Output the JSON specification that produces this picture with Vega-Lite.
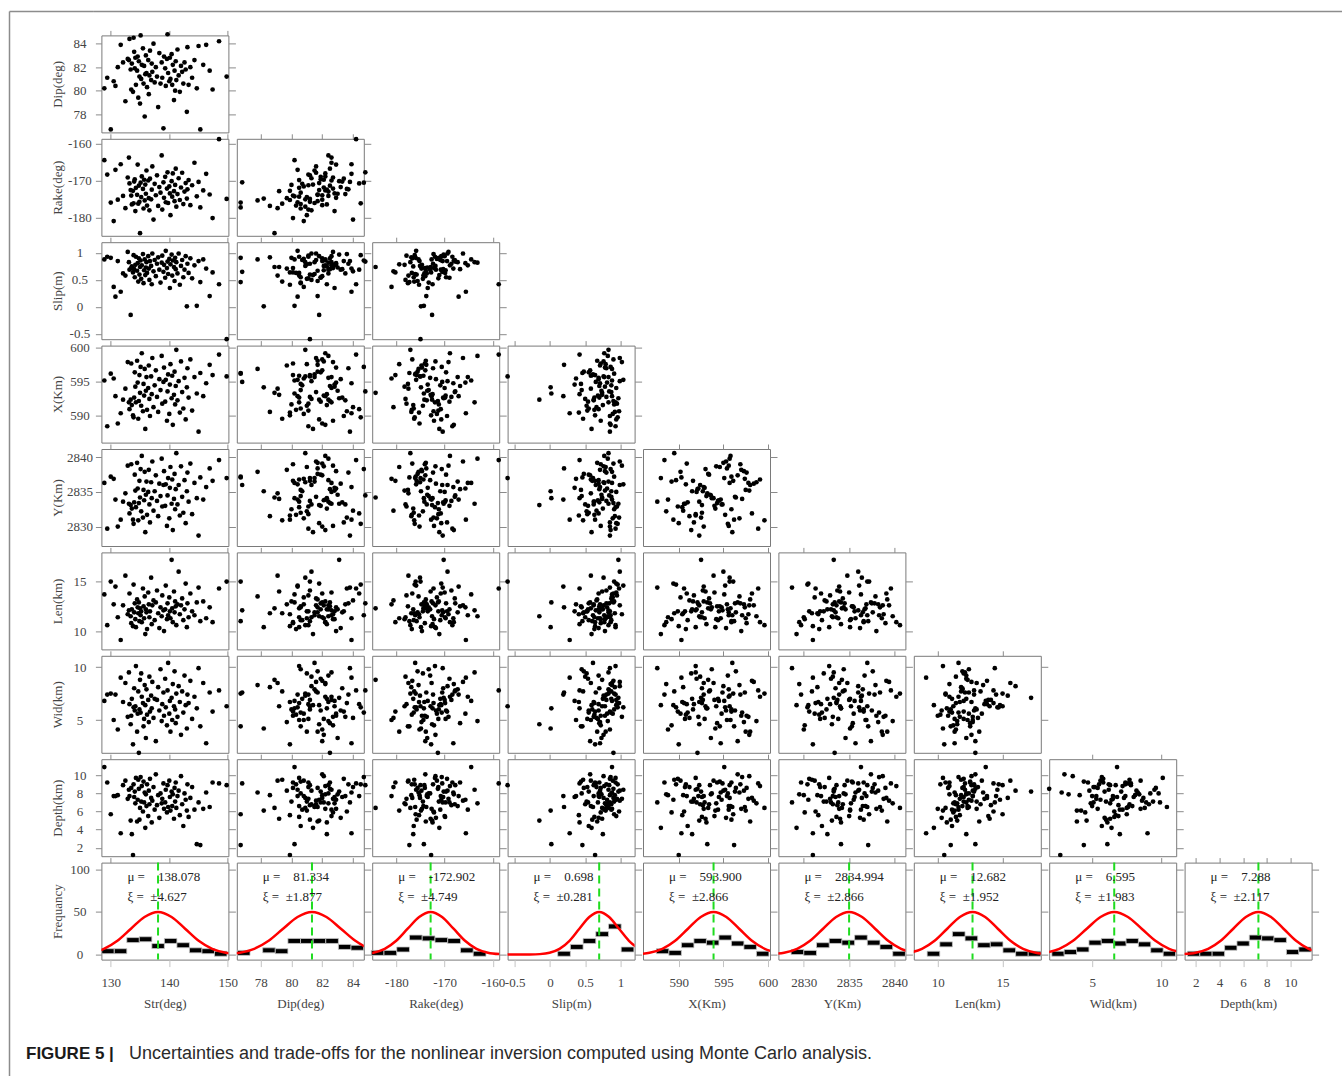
{
"$schema": "https://vega.github.io/schema/vega-lite/v6.json",
"padding": {"left": 8, "top": 10, "right": 0, "bottom": 0},
"background": "white",
"data": {"name": "s"},
"datasets": {
"s": [
{"Str":128.9,"Dip":80.2,"Rake":-164.5,"Slip":0.88,"X":595.1,"Y":2836.3,"Y2":2837.0,"Len":13.7,"Wid":6.8,"Depth":10.9},
{"Str":129.4,"Dip":81.1,"Rake":-168.4,"Slip":0.93,"X":588.4,"Y":2829.7,"Y2":2839.6,"Len":10.6,"Wid":7.4,"Depth":9.2},
{"Str":130.0,"Dip":76.7,"Rake":-176.0,"Slip":0.91,"X":596.1,"Y":2837.2,"Y2":2836.6,"Len":15.0,"Wid":7.5,"Depth":5.7},
{"Str":130.5,"Dip":80.8,"Rake":-181.0,"Slip":0.37,"X":595.4,"Y":2836.9,"Y2":2838.4,"Len":12.7,"Wid":5.0,"Depth":7.7},
{"Str":130.8,"Dip":80.4,"Rake":-167.1,"Slip":0.19,"X":592.8,"Y":2833.9,"Y2":2835.7,"Len":14.5,"Wid":7.4,"Depth":7.7},
{"Str":131.2,"Dip":82.0,"Rake":-175.2,"Slip":0.85,"X":588.8,"Y":2830.0,"Y2":2833.9,"Len":11.4,"Wid":4.1,"Depth":7.8},
{"Str":131.7,"Dip":83.9,"Rake":-165.6,"Slip":0.28,"X":590.3,"Y":2831.0,"Y2":2837.1,"Len":9.1,"Wid":9.0,"Depth":3.6},
{"Str":132.1,"Dip":82.4,"Rake":-174.2,"Slip":0.62,"X":592.3,"Y":2833.6,"Y2":2828.7,"Len":12.6,"Wid":6.7,"Depth":8.9},
{"Str":132.5,"Dip":79.1,"Rake":-177.5,"Slip":0.58,"X":593.9,"Y":2834.8,"Y2":2834.1,"Len":15.6,"Wid":8.5,"Depth":9.4},
{"Str":132.9,"Dip":82.7,"Rake":-169.2,"Slip":1.02,"X":597.8,"Y":2838.8,"Y2":2836.3,"Len":11.7,"Wid":5.3,"Depth":7.4},
{"Str":133.1,"Dip":82.6,"Rake":-163.8,"Slip":0.83,"X":591.9,"Y":2833.3,"Y2":2831.8,"Len":12.1,"Wid":9.5,"Depth":8.4},
{"Str":133.2,"Dip":84.4,"Rake":-170.8,"Slip":0.69,"X":590.9,"Y":2831.9,"Y2":2839.1,"Len":13.8,"Wid":6.5,"Depth":7.7},
{"Str":133.4,"Dip":81.8,"Rake":-172.6,"Slip":-0.15,"X":592.3,"Y":2833.1,"Y2":2833.6,"Len":11.5,"Wid":4.6,"Depth":5.0},
{"Str":133.5,"Dip":80.1,"Rake":-174.1,"Slip":0.72,"X":597.6,"Y":2839.0,"Y2":2837.8,"Len":10.8,"Wid":5.4,"Depth":8.6},
{"Str":133.6,"Dip":82.3,"Rake":-176.5,"Slip":0.75,"X":591.5,"Y":2832.6,"Y2":2835.1,"Len":12.2,"Wid":7.0,"Depth":3.5},
{"Str":133.8,"Dip":79.9,"Rake":-172.8,"Slip":0.64,"X":590.0,"Y":2831.0,"Y2":2830.5,"Len":10.5,"Wid":2.7,"Depth":1.2},
{"Str":133.9,"Dip":84.5,"Rake":-176.2,"Slip":0.96,"X":589.7,"Y":2830.4,"Y2":2836.7,"Len":14.7,"Wid":6.2,"Depth":9.0},
{"Str":134.0,"Dip":83.3,"Rake":-170.3,"Slip":0.70,"X":592.6,"Y":2833.5,"Y2":2832.0,"Len":11.9,"Wid":8.0,"Depth":7.6},
{"Str":134.1,"Dip":81.9,"Rake":-169.7,"Slip":0.55,"X":596.3,"Y":2837.5,"Y2":2834.3,"Len":12.8,"Wid":5.9,"Depth":8.2},
{"Str":134.2,"Dip":82.8,"Rake":-178.3,"Slip":0.78,"X":594.2,"Y":2835.2,"Y2":2838.7,"Len":11.2,"Wid":6.3,"Depth":6.9},
{"Str":134.3,"Dip":80.5,"Rake":-172.0,"Slip":0.93,"X":591.9,"Y":2832.8,"Y2":2831.6,"Len":10.4,"Wid":10.1,"Depth":9.7},
{"Str":134.5,"Dip":81.7,"Rake":-173.9,"Slip":0.67,"X":598.0,"Y":2839.2,"Y2":2836.0,"Len":13.2,"Wid":3.9,"Depth":4.9},
{"Str":134.6,"Dip":82.9,"Rake":-165.7,"Slip":0.81,"X":594.8,"Y":2835.5,"Y2":2833.2,"Len":12.4,"Wid":5.6,"Depth":7.3},
{"Str":134.7,"Dip":79.4,"Rake":-176.3,"Slip":0.47,"X":589.5,"Y":2830.9,"Y2":2840.6,"Len":11.8,"Wid":7.7,"Depth":9.5},
{"Str":134.8,"Dip":82.5,"Rake":-171.4,"Slip":0.90,"X":592.1,"Y":2833.4,"Y2":2835.4,"Len":12.9,"Wid":1.9,"Depth":8.5},
{"Str":134.9,"Dip":81.2,"Rake":-175.8,"Slip":0.60,"X":595.9,"Y":2836.6,"Y2":2832.5,"Len":11.0,"Wid":6.0,"Depth":5.1},
{"Str":135.0,"Dip":78.9,"Rake":-184.3,"Slip":0.74,"X":593.3,"Y":2834.2,"Y2":2837.6,"Len":12.3,"Wid":8.8,"Depth":6.4},
{"Str":135.1,"Dip":84.7,"Rake":-170.6,"Slip":0.86,"X":597.1,"Y":2838.3,"Y2":2834.0,"Len":11.6,"Wid":5.7,"Depth":9.8},
{"Str":135.2,"Dip":81.0,"Rake":-174.5,"Slip":0.52,"X":591.4,"Y":2832.2,"Y2":2829.5,"Len":12.0,"Wid":9.4,"Depth":7.1},
{"Str":135.3,"Dip":82.2,"Rake":-168.9,"Slip":0.77,"X":599.1,"Y":2840.2,"Y2":2836.8,"Len":10.9,"Wid":7.2,"Depth":8.8},
{"Str":135.5,"Dip":83.6,"Rake":-172.3,"Slip":0.98,"X":590.6,"Y":2831.3,"Y2":2833.3,"Len":14.3,"Wid":6.6,"Depth":6.0},
{"Str":135.6,"Dip":80.6,"Rake":-177.6,"Slip":0.44,"X":594.6,"Y":2835.3,"Y2":2838.6,"Len":12.5,"Wid":4.4,"Depth":9.3},
{"Str":135.7,"Dip":82.1,"Rake":-169.8,"Slip":0.68,"X":592.9,"Y":2833.8,"Y2":2835.6,"Len":11.3,"Wid":5.1,"Depth":7.0},
{"Str":135.8,"Dip":77.8,"Rake":-175.4,"Slip":0.88,"X":596.8,"Y":2837.9,"Y2":2831.2,"Len":13.5,"Wid":8.3,"Depth":8.1},
{"Str":135.9,"Dip":81.4,"Rake":-171.1,"Slip":0.59,"X":588.0,"Y":2829.2,"Y2":2837.0,"Len":9.7,"Wid":6.4,"Depth":4.2},
{"Str":136.0,"Dip":83.0,"Rake":-173.6,"Slip":0.73,"X":593.6,"Y":2834.6,"Y2":2834.5,"Len":12.2,"Wid":3.3,"Depth":7.9},
{"Str":136.1,"Dip":81.5,"Rake":-167.3,"Slip":0.83,"X":595.6,"Y":2836.5,"Y2":2830.1,"Len":11.9,"Wid":7.9,"Depth":6.6},
{"Str":136.2,"Dip":80.3,"Rake":-176.8,"Slip":0.63,"X":590.8,"Y":2831.7,"Y2":2836.1,"Len":10.2,"Wid":5.5,"Depth":9.0},
{"Str":136.4,"Dip":82.6,"Rake":-170.0,"Slip":0.94,"X":594.0,"Y":2835.0,"Y2":2833.0,"Len":13.9,"Wid":6.9,"Depth":5.5},
{"Str":136.5,"Dip":79.7,"Rake":-174.8,"Slip":0.71,"X":597.3,"Y":2838.2,"Y2":2838.0,"Len":12.7,"Wid":4.8,"Depth":8.3},
{"Str":136.6,"Dip":81.3,"Rake":-178.1,"Slip":0.50,"X":592.4,"Y":2833.2,"Y2":2836.0,"Len":11.4,"Wid":9.1,"Depth":6.8},
{"Str":136.7,"Dip":83.4,"Rake":-169.5,"Slip":0.85,"X":589.9,"Y":2830.6,"Y2":2832.9,"Len":12.0,"Wid":5.8,"Depth":9.6},
{"Str":136.9,"Dip":80.9,"Rake":-175.1,"Slip":0.76,"X":595.7,"Y":2836.4,"Y2":2839.8,"Len":15.4,"Wid":7.3,"Depth":7.5},
{"Str":137.0,"Dip":82.3,"Rake":-172.5,"Slip":0.42,"X":593.1,"Y":2834.1,"Y2":2834.4,"Len":10.7,"Wid":6.1,"Depth":4.8},
{"Str":137.1,"Dip":81.6,"Rake":-166.2,"Slip":0.99,"X":598.4,"Y":2839.4,"Y2":2836.2,"Len":12.6,"Wid":8.6,"Depth":7.2},
{"Str":137.3,"Dip":84.0,"Rake":-180.6,"Slip":0.66,"X":591.2,"Y":2832.3,"Y2":2831.5,"Len":13.1,"Wid":5.2,"Depth":8.7},
{"Str":137.5,"Dip":80.7,"Rake":-170.9,"Slip":0.87,"X":594.4,"Y":2835.1,"Y2":2833.7,"Len":11.1,"Wid":7.0,"Depth":6.2},
{"Str":137.7,"Dip":82.0,"Rake":-174.0,"Slip":0.57,"X":596.6,"Y":2837.4,"Y2":2837.4,"Len":12.9,"Wid":3.0,"Depth":10.1},
{"Str":137.9,"Dip":81.2,"Rake":-168.6,"Slip":0.80,"X":592.7,"Y":2833.7,"Y2":2835.1,"Len":14.1,"Wid":6.9,"Depth":6.7},
{"Str":138.1,"Dip":78.6,"Rake":-176.9,"Slip":0.92,"X":590.5,"Y":2831.5,"Y2":2832.3,"Len":11.8,"Wid":8.1,"Depth":7.8},
{"Str":138.3,"Dip":83.2,"Rake":-171.8,"Slip":0.69,"X":595.3,"Y":2836.2,"Y2":2839.4,"Len":10.3,"Wid":5.9,"Depth":5.3},
{"Str":138.5,"Dip":80.6,"Rake":-173.3,"Slip":0.45,"X":593.7,"Y":2834.4,"Y2":2834.1,"Len":12.4,"Wid":9.8,"Depth":8.0},
{"Str":138.7,"Dip":82.4,"Rake":-163.2,"Slip":0.82,"X":598.7,"Y":2839.8,"Y2":2836.4,"Len":11.5,"Wid":4.9,"Depth":6.9},
{"Str":138.8,"Dip":81.1,"Rake":-177.9,"Slip":0.95,"X":591.7,"Y":2832.9,"Y2":2830.6,"Len":13.6,"Wid":6.5,"Depth":7.4},
{"Str":139.0,"Dip":76.8,"Rake":-170.5,"Slip":0.65,"X":594.9,"Y":2836.0,"Y2":2833.2,"Len":12.1,"Wid":7.6,"Depth":9.1},
{"Str":139.1,"Dip":82.9,"Rake":-174.7,"Slip":0.78,"X":597.0,"Y":2838.0,"Y2":2838.2,"Len":10.0,"Wid":5.4,"Depth":6.3},
{"Str":139.3,"Dip":81.9,"Rake":-169.0,"Slip":0.54,"X":592.0,"Y":2833.0,"Y2":2835.0,"Len":12.2,"Wid":8.9,"Depth":7.0},
{"Str":139.4,"Dip":80.4,"Rake":-175.9,"Slip":1.04,"X":595.2,"Y":2836.1,"Y2":2831.7,"Len":14.6,"Wid":6.2,"Depth":8.4},
{"Str":139.6,"Dip":82.7,"Rake":-172.2,"Slip":0.72,"X":589.2,"Y":2830.1,"Y2":2836.5,"Len":11.2,"Wid":4.5,"Depth":5.9},
{"Str":139.7,"Dip":84.8,"Rake":-167.8,"Slip":0.84,"X":593.5,"Y":2834.5,"Y2":2834.6,"Len":12.8,"Wid":7.8,"Depth":8.9},
{"Str":139.8,"Dip":81.5,"Rake":-176.1,"Slip":0.61,"X":596.0,"Y":2837.0,"Y2":2829.2,"Len":11.6,"Wid":10.4,"Depth":6.5},
{"Str":140.0,"Dip":80.8,"Rake":-171.6,"Slip":0.89,"X":590.2,"Y":2831.2,"Y2":2837.9,"Len":13.4,"Wid":5.6,"Depth":9.4},
{"Str":140.1,"Dip":82.8,"Rake":-173.5,"Slip":0.35,"X":594.5,"Y":2835.6,"Y2":2833.8,"Len":12.0,"Wid":6.8,"Depth":7.6},
{"Str":140.2,"Dip":81.0,"Rake":-179.4,"Slip":0.79,"X":597.5,"Y":2838.6,"Y2":2835.3,"Len":11.3,"Wid":3.9,"Depth":6.1},
{"Str":140.4,"Dip":83.1,"Rake":-170.2,"Slip":0.97,"X":592.5,"Y":2833.3,"Y2":2831.3,"Len":17.2,"Wid":7.1,"Depth":8.2},
{"Str":140.5,"Dip":80.5,"Rake":-174.4,"Slip":0.58,"X":595.8,"Y":2836.8,"Y2":2840.2,"Len":12.3,"Wid":5.0,"Depth":6.6},
{"Str":140.6,"Dip":82.2,"Rake":-168.1,"Slip":0.86,"X":588.6,"Y":2829.5,"Y2":2832.2,"Len":10.9,"Wid":8.4,"Depth":7.9},
{"Str":140.8,"Dip":79.2,"Rake":-172.9,"Slip":0.74,"X":593.0,"Y":2834.0,"Y2":2838.3,"Len":14.0,"Wid":6.3,"Depth":5.2},
{"Str":140.9,"Dip":81.7,"Rake":-175.6,"Slip":0.48,"X":596.4,"Y":2837.6,"Y2":2834.2,"Len":11.9,"Wid":9.6,"Depth":8.6},
{"Str":141.0,"Dip":80.0,"Rake":-171.2,"Slip":0.91,"X":591.6,"Y":2832.5,"Y2":2836.6,"Len":13.0,"Wid":6.0,"Depth":7.1},
{"Str":141.1,"Dip":82.5,"Rake":-166.8,"Slip":0.70,"X":594.3,"Y":2835.4,"Y2":2833.4,"Len":12.5,"Wid":4.7,"Depth":9.2},
{"Str":141.2,"Dip":80.9,"Rake":-177.1,"Slip":0.83,"X":599.6,"Y":2840.6,"Y2":2830.9,"Len":10.6,"Wid":7.5,"Depth":6.4},
{"Str":141.4,"Dip":83.5,"Rake":-173.7,"Slip":0.62,"X":592.2,"Y":2833.2,"Y2":2835.5,"Len":12.7,"Wid":5.3,"Depth":7.7},
{"Str":141.6,"Dip":81.3,"Rake":-169.4,"Slip":0.99,"X":595.0,"Y":2836.0,"Y2":2839.2,"Len":16.0,"Wid":8.2,"Depth":8.3},
{"Str":141.8,"Dip":79.9,"Rake":-175.3,"Slip":0.41,"X":590.4,"Y":2831.6,"Y2":2832.8,"Len":11.7,"Wid":6.7,"Depth":5.6},
{"Str":142.0,"Dip":82.1,"Rake":-171.9,"Slip":0.76,"X":597.9,"Y":2838.7,"Y2":2835.2,"Len":12.6,"Wid":3.6,"Depth":9.9},
{"Str":142.2,"Dip":81.6,"Rake":-167.9,"Slip":0.87,"X":593.4,"Y":2834.3,"Y2":2837.5,"Len":13.3,"Wid":7.7,"Depth":6.8},
{"Str":142.4,"Dip":80.6,"Rake":-176.4,"Slip":0.55,"X":591.0,"Y":2832.0,"Y2":2833.5,"Len":11.1,"Wid":5.7,"Depth":4.4},
{"Str":142.6,"Dip":82.4,"Rake":-173.0,"Slip":0.69,"X":595.5,"Y":2836.7,"Y2":2830.4,"Len":12.2,"Wid":9.2,"Depth":8.0},
{"Str":142.8,"Dip":81.8,"Rake":-170.7,"Slip":0.94,"X":589.4,"Y":2830.5,"Y2":2831.0,"Len":14.8,"Wid":6.4,"Depth":7.3},
{"Str":143.0,"Dip":78.2,"Rake":-174.9,"Slip":0.01,"X":594.1,"Y":2835.1,"Y2":2832.6,"Len":10.4,"Wid":4.2,"Depth":6.1},
{"Str":143.1,"Dip":83.7,"Rake":-172.4,"Slip":0.80,"X":596.9,"Y":2837.8,"Y2":2839.0,"Len":12.8,"Wid":7.4,"Depth":9.0},
{"Str":143.3,"Dip":80.5,"Rake":-169.9,"Slip":0.63,"X":592.6,"Y":2833.6,"Y2":2833.1,"Len":11.4,"Wid":6.6,"Depth":5.4},
{"Str":143.6,"Dip":82.0,"Rake":-176.7,"Slip":0.90,"X":598.2,"Y":2839.1,"Y2":2831.9,"Len":13.8,"Wid":8.7,"Depth":7.5},
{"Str":143.9,"Dip":81.1,"Rake":-171.3,"Slip":0.53,"X":590.7,"Y":2831.8,"Y2":2833.3,"Len":12.0,"Wid":5.1,"Depth":8.7},
{"Str":144.3,"Dip":82.6,"Rake":-165.2,"Slip":0.77,"X":595.6,"Y":2836.3,"Y2":2838.8,"Len":11.6,"Wid":7.2,"Depth":6.2},
{"Str":144.7,"Dip":80.2,"Rake":-174.3,"Slip":0.02,"X":593.2,"Y":2834.1,"Y2":2834.8,"Len":12.9,"Wid":6.1,"Depth":2.4},
{"Str":145.0,"Dip":83.8,"Rake":-170.4,"Slip":0.85,"X":587.6,"Y":2828.7,"Y2":2833.6,"Len":14.4,"Wid":9.9,"Depth":7.0},
{"Str":145.3,"Dip":76.7,"Rake":-177.3,"Slip":0.46,"X":596.2,"Y":2837.1,"Y2":2831.0,"Len":11.0,"Wid":4.4,"Depth":2.3},
{"Str":145.8,"Dip":82.2,"Rake":-172.7,"Slip":0.88,"X":592.8,"Y":2833.9,"Y2":2830.0,"Len":13.0,"Wid":8.5,"Depth":6.3},
{"Str":146.3,"Dip":83.9,"Rake":-168.2,"Slip":0.71,"X":594.7,"Y":2835.7,"Y2":2833.9,"Len":11.3,"Wid":2.8,"Depth":8.1},
{"Str":146.9,"Dip":81.7,"Rake":-173.8,"Slip":0.20,"X":597.4,"Y":2838.4,"Y2":2836.9,"Len":12.4,"Wid":7.6,"Depth":6.5},
{"Str":147.4,"Dip":80.1,"Rake":-180.2,"Slip":0.64,"X":595.9,"Y":2836.6,"Y2":2837.2,"Len":10.9,"Wid":5.8,"Depth":9.2},
{"Str":148.5,"Dip":84.2,"Rake":-158.8,"Slip":0.42,"X":598.9,"Y":2839.6,"Y2":2829.7,"Len":14.3,"Wid":7.8,"Depth":9.1},
{"Str":149.8,"Dip":81.2,"Rake":-175.0,"Slip":-0.60,"X":595.7,"Y":2837.0,"Y2":2836.3,"Len":15.0,"Wid":6.3,"Depth":8.9}
],
"hist": [
{"p":"Str","lo":128.46,"hi":130.6,"n":4},{"p":"Str","lo":130.6,"hi":132.74,"n":4},{"p":"Str","lo":132.74,"hi":134.88,"n":17},{"p":"Str","lo":134.88,"hi":137.02,"n":18},{"p":"Str","lo":137.02,"hi":139.16,"n":10},{"p":"Str","lo":139.16,"hi":141.3,"n":16},{"p":"Str","lo":141.3,"hi":143.44,"n":11},{"p":"Str","lo":143.44,"hi":145.58,"n":5},{"p":"Str","lo":145.58,"hi":147.72,"n":4},{"p":"Str","lo":147.72,"hi":149.86,"n":1},
{"p":"Dip","lo":76.49,"hi":77.31,"n":2},{"p":"Dip","lo":78.13,"hi":78.95,"n":5},{"p":"Dip","lo":78.95,"hi":79.77,"n":4},{"p":"Dip","lo":79.77,"hi":80.59,"n":16},{"p":"Dip","lo":80.59,"hi":81.41,"n":16},{"p":"Dip","lo":81.41,"hi":82.23,"n":16},{"p":"Dip","lo":82.23,"hi":83.05,"n":16},{"p":"Dip","lo":83.05,"hi":83.87,"n":9},{"p":"Dip","lo":83.87,"hi":84.69,"n":8},
{"p":"Rake","lo":-185.2,"hi":-182.56,"n":2},{"p":"Rake","lo":-182.56,"hi":-179.92,"n":2},{"p":"Rake","lo":-179.92,"hi":-177.28,"n":6},{"p":"Rake","lo":-177.28,"hi":-174.64,"n":20},{"p":"Rake","lo":-174.64,"hi":-172.0,"n":19},{"p":"Rake","lo":-172.0,"hi":-169.36,"n":17},{"p":"Rake","lo":-169.36,"hi":-166.72,"n":16},{"p":"Rake","lo":-166.72,"hi":-164.08,"n":5},{"p":"Rake","lo":-164.08,"hi":-161.44,"n":1},
{"p":"Slip","lo":0.11,"hi":0.29,"n":1},{"p":"Slip","lo":0.29,"hi":0.47,"n":9},{"p":"Slip","lo":0.47,"hi":0.65,"n":16},{"p":"Slip","lo":0.65,"hi":0.83,"n":24},{"p":"Slip","lo":0.83,"hi":1.01,"n":33},{"p":"Slip","lo":1.01,"hi":1.19,"n":6},
{"p":"X","lo":587.5,"hi":588.9,"n":4},{"p":"X","lo":588.9,"hi":590.3,"n":2},{"p":"X","lo":590.3,"hi":591.7,"n":11},{"p":"X","lo":591.7,"hi":593.1,"n":16},{"p":"X","lo":593.1,"hi":594.5,"n":14},{"p":"X","lo":594.5,"hi":595.9,"n":20},{"p":"X","lo":595.9,"hi":597.3,"n":13},{"p":"X","lo":597.3,"hi":598.7,"n":9},{"p":"X","lo":598.7,"hi":600.1,"n":1},
{"p":"Y","lo":2828.6,"hi":2830.0,"n":3},{"p":"Y","lo":2830.0,"hi":2831.4,"n":2},{"p":"Y","lo":2831.4,"hi":2832.8,"n":11},{"p":"Y","lo":2832.8,"hi":2834.2,"n":16},{"p":"Y","lo":2834.2,"hi":2835.6,"n":14},{"p":"Y","lo":2835.6,"hi":2837.0,"n":20},{"p":"Y","lo":2837.0,"hi":2838.4,"n":14},{"p":"Y","lo":2838.4,"hi":2839.8,"n":9},{"p":"Y","lo":2839.8,"hi":2841.2,"n":1},
{"p":"Len","lo":9.18,"hi":10.155,"n":1},{"p":"Len","lo":10.155,"hi":11.13,"n":12},{"p":"Len","lo":11.13,"hi":12.105,"n":24},{"p":"Len","lo":12.105,"hi":13.08,"n":19},{"p":"Len","lo":13.08,"hi":14.055,"n":11},{"p":"Len","lo":14.055,"hi":15.03,"n":12},{"p":"Len","lo":15.03,"hi":16.005,"n":5},{"p":"Len","lo":16.005,"hi":16.98,"n":1},{"p":"Len","lo":16.98,"hi":17.955,"n":1},
{"p":"Wid","lo":2.09,"hi":2.98,"n":1},{"p":"Wid","lo":2.98,"hi":3.88,"n":3},{"p":"Wid","lo":3.88,"hi":4.77,"n":6},{"p":"Wid","lo":4.77,"hi":5.66,"n":14},{"p":"Wid","lo":5.66,"hi":6.56,"n":16},{"p":"Wid","lo":6.56,"hi":7.45,"n":13},{"p":"Wid","lo":7.45,"hi":8.34,"n":16},{"p":"Wid","lo":8.34,"hi":9.23,"n":12},{"p":"Wid","lo":9.23,"hi":10.13,"n":5},{"p":"Wid","lo":10.13,"hi":11.02,"n":1},
{"p":"Depth","lo":1.31,"hi":2.35,"n":1},{"p":"Depth","lo":2.35,"hi":3.39,"n":1},{"p":"Depth","lo":3.39,"hi":4.44,"n":1},{"p":"Depth","lo":4.44,"hi":5.48,"n":8},{"p":"Depth","lo":5.48,"hi":6.52,"n":13},{"p":"Depth","lo":6.52,"hi":7.56,"n":20},{"p":"Depth","lo":7.56,"hi":8.6,"n":19},{"p":"Depth","lo":8.6,"hi":9.65,"n":17},{"p":"Depth","lo":9.65,"hi":10.69,"n":3},{"p":"Depth","lo":10.69,"hi":11.73,"n":6}
],
"curve": [
{"p":"Str","x":124.197,"y":0.56},{"p":"Str","x":126.511,"y":2.2},{"p":"Str","x":128.824,"y":6.77},{"p":"Str","x":131.138,"y":16.23},{"p":"Str","x":133.451,"y":30.33},{"p":"Str","x":135.765,"y":44.12},{"p":"Str","x":138.078,"y":50},{"p":"Str","x":140.392,"y":44.12},{"p":"Str","x":142.705,"y":30.33},{"p":"Str","x":145.019,"y":16.23},{"p":"Str","x":147.332,"y":6.77},{"p":"Str","x":149.646,"y":2.2},{"p":"Str","x":151.959,"y":0.56},
{"p":"Dip","x":75.703,"y":0.56},{"p":"Dip","x":76.642,"y":2.2},{"p":"Dip","x":77.58,"y":6.77},{"p":"Dip","x":78.519,"y":16.23},{"p":"Dip","x":79.457,"y":30.33},{"p":"Dip","x":80.396,"y":44.12},{"p":"Dip","x":81.334,"y":50},{"p":"Dip","x":82.273,"y":44.12},{"p":"Dip","x":83.211,"y":30.33},{"p":"Dip","x":84.15,"y":16.23},{"p":"Dip","x":85.088,"y":6.77},{"p":"Dip","x":86.027,"y":2.2},
{"p":"Rake","x":-187.149,"y":0.56},{"p":"Rake","x":-184.775,"y":2.2},{"p":"Rake","x":-182.4,"y":6.77},{"p":"Rake","x":-180.026,"y":16.23},{"p":"Rake","x":-177.651,"y":30.33},{"p":"Rake","x":-175.277,"y":44.12},{"p":"Rake","x":-172.902,"y":50},{"p":"Rake","x":-170.527,"y":44.12},{"p":"Rake","x":-168.153,"y":30.33},{"p":"Rake","x":-165.779,"y":16.23},{"p":"Rake","x":-163.404,"y":6.77},{"p":"Rake","x":-161.03,"y":2.2},{"p":"Rake","x":-158.655,"y":0.56},{"p":"Rake","x":-156.281,"y":0.11},
{"p":"Slip","x":-0.707,"y":0},{"p":"Slip","x":-0.567,"y":0},{"p":"Slip","x":-0.426,"y":0.02},{"p":"Slip","x":-0.286,"y":0.11},{"p":"Slip","x":-0.145,"y":0.56},{"p":"Slip","x":-0.005,"y":2.2},{"p":"Slip","x":0.136,"y":6.77},{"p":"Slip","x":0.277,"y":16.23},{"p":"Slip","x":0.417,"y":30.33},{"p":"Slip","x":0.558,"y":44.12},{"p":"Slip","x":0.698,"y":50},{"p":"Slip","x":0.839,"y":44.12},{"p":"Slip","x":0.979,"y":30.33},{"p":"Slip","x":1.12,"y":16.23},{"p":"Slip","x":1.26,"y":6.77},
{"p":"X","x":585.302,"y":0.56},{"p":"X","x":586.735,"y":2.2},{"p":"X","x":588.168,"y":6.77},{"p":"X","x":589.601,"y":16.23},{"p":"X","x":591.034,"y":30.33},{"p":"X","x":592.467,"y":44.12},{"p":"X","x":593.9,"y":50},{"p":"X","x":595.333,"y":44.12},{"p":"X","x":596.766,"y":30.33},{"p":"X","x":598.199,"y":16.23},{"p":"X","x":599.632,"y":6.77},{"p":"X","x":601.065,"y":2.2},
{"p":"Y","x":2826.396,"y":0.56},{"p":"Y","x":2827.829,"y":2.2},{"p":"Y","x":2829.262,"y":6.77},{"p":"Y","x":2830.695,"y":16.23},{"p":"Y","x":2832.128,"y":30.33},{"p":"Y","x":2833.561,"y":44.12},{"p":"Y","x":2834.994,"y":50},{"p":"Y","x":2836.427,"y":44.12},{"p":"Y","x":2837.86,"y":30.33},{"p":"Y","x":2839.293,"y":16.23},{"p":"Y","x":2840.726,"y":6.77},{"p":"Y","x":2842.159,"y":2.2},
{"p":"Len","x":6.826,"y":0.56},{"p":"Len","x":7.802,"y":2.2},{"p":"Len","x":8.778,"y":6.77},{"p":"Len","x":9.754,"y":16.23},{"p":"Len","x":10.73,"y":30.33},{"p":"Len","x":11.706,"y":44.12},{"p":"Len","x":12.682,"y":50},{"p":"Len","x":13.658,"y":44.12},{"p":"Len","x":14.634,"y":30.33},{"p":"Len","x":15.61,"y":16.23},{"p":"Len","x":16.586,"y":6.77},{"p":"Len","x":17.562,"y":2.2},{"p":"Len","x":18.538,"y":0.56},
{"p":"Wid","x":0.646,"y":0.56},{"p":"Wid","x":1.638,"y":2.2},{"p":"Wid","x":2.629,"y":6.77},{"p":"Wid","x":3.621,"y":16.23},{"p":"Wid","x":4.612,"y":30.33},{"p":"Wid","x":5.604,"y":44.12},{"p":"Wid","x":6.595,"y":50},{"p":"Wid","x":7.587,"y":44.12},{"p":"Wid","x":8.578,"y":30.33},{"p":"Wid","x":9.57,"y":16.23},{"p":"Wid","x":10.561,"y":6.77},{"p":"Wid","x":11.553,"y":2.2},
{"p":"Depth","x":-0.122,"y":0.11},{"p":"Depth","x":0.937,"y":0.56},{"p":"Depth","x":1.996,"y":2.2},{"p":"Depth","x":3.054,"y":6.77},{"p":"Depth","x":4.113,"y":16.23},{"p":"Depth","x":5.171,"y":30.33},{"p":"Depth","x":6.23,"y":44.12},{"p":"Depth","x":7.288,"y":50},{"p":"Depth","x":8.347,"y":44.12},{"p":"Depth","x":9.405,"y":30.33},{"p":"Depth","x":10.464,"y":16.23},{"p":"Depth","x":11.522,"y":6.77},{"p":"Depth","x":12.581,"y":2.2}
],
"stats": [
{"p":"Str","mu":138.078},{"p":"Dip","mu":81.334},{"p":"Rake","mu":-172.902},{"p":"Slip","mu":0.698},{"p":"X","mu":593.9},{"p":"Y","mu":2834.994},{"p":"Len","mu":12.682},{"p":"Wid","mu":6.595},{"p":"Depth","mu":7.288}
]
},
"config": {
"locale": {"number": {"decimal": ".", "thousands": ",", "grouping": [3], "currency": ["$", ""], "minus": "-"}},
"font": "Liberation Serif",
"view": {"stroke": "#7a7a7a", "strokeWidth": 1},
"axis": {"domain": false, "grid": false, "tickColor": "#8a8a8a", "tickWidth": 1, "labelFont": "Liberation Serif", "labelFontSize": 13, "labelColor": "#444444", "titleFont": "Liberation Serif", "titleFontSize": 13, "titleFontWeight": "normal", "titleColor": "#444444", "labelFlush": false, "labelOverlap": false, "labelBound": false},
"point": {"filled": true, "size": 22, "color": "#000000", "opacity": 1},
"bar": {"color": "#000000", "stroke": "#c8c8c8", "strokeWidth": 0.8},
"line": {"color": "#ff0000", "strokeWidth": 2.5, "interpolate": "monotone"},
"rule": {"color": "#1fdc1f", "strokeWidth": 2, "strokeDash": [8, 5]},
"title": {"font": "Liberation Serif", "fontSize": 13, "fontWeight": "normal", "color": "#222222", "anchor": "start", "frame": "group", "orient": "top", "baseline": "top", "offset": -47, "dx": 26, "lineHeight": 20}
},
"columns": 10,
"bounds": "flush",
"spacing": {"row": 6.4, "column": 8.4},
"concat": [
{"width":83.6,"height":17.6,"data":{"values":[]},"view":{"stroke":null},"layer":[
{"mark":{"type":"point","opacity":0},"encoding":{"x":{"field":"f","type":"quantitative","scale":{"domain":[0,1],"nice":false,"zero":false},"axis":{"orient":"top","domain":true,"domainColor":"#8c8c8c","domainWidth":1.5,"ticks":false,"labels":false,"title":null}},"y":{"field":"f","type":"quantitative","scale":{"domain":[0,1],"nice":false,"zero":false},"axis":{"orient":"left","domain":true,"domainColor":"#8c8c8c","domainWidth":1.5,"ticks":false,"labels":false,"title":null}}}},
{"mark":{"type":"point","opacity":0},"encoding":{"x":{"field":"f","type":"quantitative","scale":{"domain":[0,1],"nice":false,"zero":false},"axis":{"orient":"bottom","values":[0],"tickSize":1048.4,"tickColor":"#8c8c8c","tickWidth":1.5,"labels":false,"title":null}},"y":{"field":"f","type":"quantitative","scale":{"domain":[0,1],"nice":false,"zero":false},"axis":{"orient":"right","values":[1],"tickSize":1250.4,"tickColor":"#8c8c8c","tickWidth":1.5,"labels":false,"title":null}}}}
],"resolve":{"axis":{"x":"independent","y":"independent"}}},
{"width":1,"height":1,"data":{"values":[]},"mark":"point","view":{"stroke":null}},
{"width":1,"height":1,"data":{"values":[]},"mark":"point","view":{"stroke":null}},
{"width":1,"height":1,"data":{"values":[]},"mark":"point","view":{"stroke":null}},
{"width":1,"height":1,"data":{"values":[]},"mark":"point","view":{"stroke":null}},
{"width":1,"height":1,"data":{"values":[]},"mark":"point","view":{"stroke":null}},
{"width":1,"height":1,"data":{"values":[]},"mark":"point","view":{"stroke":null}},
{"width":1,"height":1,"data":{"values":[]},"mark":"point","view":{"stroke":null}},
{"width":1,"height":1,"data":{"values":[]},"mark":"point","view":{"stroke":null}},
{"width":1,"height":1,"data":{"values":[]},"mark":"point","view":{"stroke":null}},

{"width":1,"height":1,"data":{"values":[]},"mark":"point","view":{"stroke":null}},
{"width":127,"height":97,"layer":[{"mark":"point","encoding":{"x":{"field":"Str","type":"quantitative","scale":{"domain":[128.4,150.1],"nice":false,"zero":false},"axis":{"orient":"top","values":[130,140,150],"labels":false,"title":null,"tickSize":5}},"y":{"field":"Dip","type":"quantitative","scale":{"domain":[76.45,84.7],"nice":false,"zero":false},"axis":{"orient":"left","values":[78,80,82,84],"title":"Dip(deg)","format":".6~g","tickSize":6,"labelPadding":16,"labelAlign":"center","minExtent":36,"maxExtent":36,"titlePadding":1}}}},{"mark":{"type":"point","opacity":0},"encoding":{"x":{"field":"Str","type":"quantitative","scale":{"domain":[128.4,150.1],"nice":false,"zero":false},"axis":null},"y":{"field":"Dip","type":"quantitative","scale":{"domain":[76.45,84.7],"nice":false,"zero":false},"axis":{"orient":"right","values":[78,80,82,84],"labels":false,"title":null,"tickSize":7}}}}],"resolve":{"axis":{"x":"independent","y":"independent"}}},
{"width":1,"height":1,"data":{"values":[]},"mark":"point","view":{"stroke":null}},
{"width":1,"height":1,"data":{"values":[]},"mark":"point","view":{"stroke":null}},
{"width":1,"height":1,"data":{"values":[]},"mark":"point","view":{"stroke":null}},
{"width":1,"height":1,"data":{"values":[]},"mark":"point","view":{"stroke":null}},
{"width":1,"height":1,"data":{"values":[]},"mark":"point","view":{"stroke":null}},
{"width":1,"height":1,"data":{"values":[]},"mark":"point","view":{"stroke":null}},
{"width":1,"height":1,"data":{"values":[]},"mark":"point","view":{"stroke":null}},
{"width":1,"height":1,"data":{"values":[]},"mark":"point","view":{"stroke":null}},

{"width":1,"height":1,"data":{"values":[]},"mark":"point","view":{"stroke":null}},
{"width":127,"height":97,"layer":[{"mark":"point","encoding":{"x":{"field":"Str","type":"quantitative","scale":{"domain":[128.4,150.1],"nice":false,"zero":false},"axis":{"orient":"top","values":[130,140,150],"labels":false,"title":null,"tickSize":5}},"y":{"field":"Rake","type":"quantitative","scale":{"domain":[-185,-158.7],"nice":false,"zero":false},"axis":{"orient":"left","values":[-180,-170,-160],"title":"Rake(deg)","format":".6~g","tickSize":6,"labelPadding":16,"labelAlign":"center","minExtent":36,"maxExtent":36,"titlePadding":1}}}},{"mark":{"type":"point","opacity":0},"encoding":{"x":{"field":"Str","type":"quantitative","scale":{"domain":[128.4,150.1],"nice":false,"zero":false},"axis":null},"y":{"field":"Rake","type":"quantitative","scale":{"domain":[-185,-158.7],"nice":false,"zero":false},"axis":{"orient":"right","values":[-180,-170,-160],"labels":false,"title":null,"tickSize":7}}}}],"resolve":{"axis":{"x":"independent","y":"independent"}}},
{"width":127,"height":97,"mark":"point","encoding":{"x":{"field":"Dip","type":"quantitative","scale":{"domain":[76.45,84.7],"nice":false,"zero":false},"axis":{"orient":"top","values":[78,80,82,84],"labels":false,"title":null,"tickSize":5}},"y":{"field":"Rake","type":"quantitative","scale":{"domain":[-185,-158.7],"nice":false,"zero":false},"axis":{"orient":"right","values":[-180,-170,-160],"labels":false,"title":null,"tickSize":7}}}},
{"width":1,"height":1,"data":{"values":[]},"mark":"point","view":{"stroke":null}},
{"width":1,"height":1,"data":{"values":[]},"mark":"point","view":{"stroke":null}},
{"width":1,"height":1,"data":{"values":[]},"mark":"point","view":{"stroke":null}},
{"width":1,"height":1,"data":{"values":[]},"mark":"point","view":{"stroke":null}},
{"width":1,"height":1,"data":{"values":[]},"mark":"point","view":{"stroke":null}},
{"width":1,"height":1,"data":{"values":[]},"mark":"point","view":{"stroke":null}},
{"width":1,"height":1,"data":{"values":[]},"mark":"point","view":{"stroke":null}},

{"width":1,"height":1,"data":{"values":[]},"mark":"point","view":{"stroke":null}},
{"width":127,"height":97,"layer":[{"mark":"point","encoding":{"x":{"field":"Str","type":"quantitative","scale":{"domain":[128.4,150.1],"nice":false,"zero":false},"axis":{"orient":"top","values":[130,140,150],"labels":false,"title":null,"tickSize":5}},"y":{"field":"Slip","type":"quantitative","scale":{"domain":[-0.6,1.2],"nice":false,"zero":false},"axis":{"orient":"left","values":[-0.5,0,0.5,1],"title":"Slip(m)","format":".6~g","tickSize":6,"labelPadding":16,"labelAlign":"center","minExtent":36,"maxExtent":36,"titlePadding":1}}}},{"mark":{"type":"point","opacity":0},"encoding":{"x":{"field":"Str","type":"quantitative","scale":{"domain":[128.4,150.1],"nice":false,"zero":false},"axis":null},"y":{"field":"Slip","type":"quantitative","scale":{"domain":[-0.6,1.2],"nice":false,"zero":false},"axis":{"orient":"right","values":[-0.5,0,0.5,1],"labels":false,"title":null,"tickSize":7}}}}],"resolve":{"axis":{"x":"independent","y":"independent"}}},
{"width":127,"height":97,"mark":"point","encoding":{"x":{"field":"Dip","type":"quantitative","scale":{"domain":[76.45,84.7],"nice":false,"zero":false},"axis":{"orient":"top","values":[78,80,82,84],"labels":false,"title":null,"tickSize":5}},"y":{"field":"Slip","type":"quantitative","scale":{"domain":[-0.6,1.2],"nice":false,"zero":false},"axis":{"orient":"right","values":[-0.5,0,0.5,1],"labels":false,"title":null,"tickSize":7}}}},
{"width":127,"height":97,"mark":"point","encoding":{"x":{"field":"Rake","type":"quantitative","scale":{"domain":[-185,-158.7],"nice":false,"zero":false},"axis":{"orient":"top","values":[-180,-170,-160],"labels":false,"title":null,"tickSize":5}},"y":{"field":"Slip","type":"quantitative","scale":{"domain":[-0.6,1.2],"nice":false,"zero":false},"axis":{"orient":"right","values":[-0.5,0,0.5,1],"labels":false,"title":null,"tickSize":7}}}},
{"width":1,"height":1,"data":{"values":[]},"mark":"point","view":{"stroke":null}},
{"width":1,"height":1,"data":{"values":[]},"mark":"point","view":{"stroke":null}},
{"width":1,"height":1,"data":{"values":[]},"mark":"point","view":{"stroke":null}},
{"width":1,"height":1,"data":{"values":[]},"mark":"point","view":{"stroke":null}},
{"width":1,"height":1,"data":{"values":[]},"mark":"point","view":{"stroke":null}},
{"width":1,"height":1,"data":{"values":[]},"mark":"point","view":{"stroke":null}},

{"width":1,"height":1,"data":{"values":[]},"mark":"point","view":{"stroke":null}},
{"width":127,"height":97,"layer":[{"mark":"point","encoding":{"x":{"field":"Str","type":"quantitative","scale":{"domain":[128.4,150.1],"nice":false,"zero":false},"axis":{"orient":"top","values":[130,140,150],"labels":false,"title":null,"tickSize":5}},"y":{"field":"X","type":"quantitative","scale":{"domain":[586,600.22],"nice":false,"zero":false},"axis":{"orient":"left","values":[590,595,600],"title":"X(Km)","format":".6~g","tickSize":6,"labelPadding":16,"labelAlign":"center","minExtent":36,"maxExtent":36,"titlePadding":1}}}},{"mark":{"type":"point","opacity":0},"encoding":{"x":{"field":"Str","type":"quantitative","scale":{"domain":[128.4,150.1],"nice":false,"zero":false},"axis":null},"y":{"field":"X","type":"quantitative","scale":{"domain":[586,600.22],"nice":false,"zero":false},"axis":{"orient":"right","values":[590,595,600],"labels":false,"title":null,"tickSize":7}}}}],"resolve":{"axis":{"x":"independent","y":"independent"}}},
{"width":127,"height":97,"mark":"point","encoding":{"x":{"field":"Dip","type":"quantitative","scale":{"domain":[76.45,84.7],"nice":false,"zero":false},"axis":{"orient":"top","values":[78,80,82,84],"labels":false,"title":null,"tickSize":5}},"y":{"field":"X","type":"quantitative","scale":{"domain":[586,600.22],"nice":false,"zero":false},"axis":{"orient":"right","values":[590,595,600],"labels":false,"title":null,"tickSize":7}}}},
{"width":127,"height":97,"mark":"point","encoding":{"x":{"field":"Rake","type":"quantitative","scale":{"domain":[-185,-158.7],"nice":false,"zero":false},"axis":{"orient":"top","values":[-180,-170,-160],"labels":false,"title":null,"tickSize":5}},"y":{"field":"X","type":"quantitative","scale":{"domain":[586,600.22],"nice":false,"zero":false},"axis":{"orient":"right","values":[590,595,600],"labels":false,"title":null,"tickSize":7}}}},
{"width":127,"height":97,"mark":"point","encoding":{"x":{"field":"Slip","type":"quantitative","scale":{"domain":[-0.6,1.2],"nice":false,"zero":false},"axis":{"orient":"top","values":[-0.5,0,0.5,1],"labels":false,"title":null,"tickSize":5}},"y":{"field":"X","type":"quantitative","scale":{"domain":[586,600.22],"nice":false,"zero":false},"axis":{"orient":"right","values":[590,595,600],"labels":false,"title":null,"tickSize":7}}}},
{"width":1,"height":1,"data":{"values":[]},"mark":"point","view":{"stroke":null}},
{"width":1,"height":1,"data":{"values":[]},"mark":"point","view":{"stroke":null}},
{"width":1,"height":1,"data":{"values":[]},"mark":"point","view":{"stroke":null}},
{"width":1,"height":1,"data":{"values":[]},"mark":"point","view":{"stroke":null}},
{"width":1,"height":1,"data":{"values":[]},"mark":"point","view":{"stroke":null}},

{"width":1,"height":1,"data":{"values":[]},"mark":"point","view":{"stroke":null}},
{"width":127,"height":97,"layer":[{"mark":"point","encoding":{"x":{"field":"Str","type":"quantitative","scale":{"domain":[128.4,150.1],"nice":false,"zero":false},"axis":{"orient":"top","values":[130,140,150],"labels":false,"title":null,"tickSize":5}},"y":{"field":"Y","type":"quantitative","scale":{"domain":[2827.2,2841.2],"nice":false,"zero":false},"axis":{"orient":"left","values":[2830,2835,2840],"title":"Y(Km)","format":".6~g","tickSize":6,"labelPadding":16,"labelAlign":"center","minExtent":36,"maxExtent":36,"titlePadding":1}}}},{"mark":{"type":"point","opacity":0},"encoding":{"x":{"field":"Str","type":"quantitative","scale":{"domain":[128.4,150.1],"nice":false,"zero":false},"axis":null},"y":{"field":"Y","type":"quantitative","scale":{"domain":[2827.2,2841.2],"nice":false,"zero":false},"axis":{"orient":"right","values":[2830,2835,2840],"labels":false,"title":null,"tickSize":7}}}}],"resolve":{"axis":{"x":"independent","y":"independent"}}},
{"width":127,"height":97,"mark":"point","encoding":{"x":{"field":"Dip","type":"quantitative","scale":{"domain":[76.45,84.7],"nice":false,"zero":false},"axis":{"orient":"top","values":[78,80,82,84],"labels":false,"title":null,"tickSize":5}},"y":{"field":"Y","type":"quantitative","scale":{"domain":[2827.2,2841.2],"nice":false,"zero":false},"axis":{"orient":"right","values":[2830,2835,2840],"labels":false,"title":null,"tickSize":7}}}},
{"width":127,"height":97,"mark":"point","encoding":{"x":{"field":"Rake","type":"quantitative","scale":{"domain":[-185,-158.7],"nice":false,"zero":false},"axis":{"orient":"top","values":[-180,-170,-160],"labels":false,"title":null,"tickSize":5}},"y":{"field":"Y","type":"quantitative","scale":{"domain":[2827.2,2841.2],"nice":false,"zero":false},"axis":{"orient":"right","values":[2830,2835,2840],"labels":false,"title":null,"tickSize":7}}}},
{"width":127,"height":97,"mark":"point","encoding":{"x":{"field":"Slip","type":"quantitative","scale":{"domain":[-0.6,1.2],"nice":false,"zero":false},"axis":{"orient":"top","values":[-0.5,0,0.5,1],"labels":false,"title":null,"tickSize":5}},"y":{"field":"Y","type":"quantitative","scale":{"domain":[2827.2,2841.2],"nice":false,"zero":false},"axis":{"orient":"right","values":[2830,2835,2840],"labels":false,"title":null,"tickSize":7}}}},
{"width":127,"height":97,"mark":"point","encoding":{"x":{"field":"X","type":"quantitative","scale":{"domain":[586,600.22],"nice":false,"zero":false},"axis":{"orient":"top","values":[590,595,600],"labels":false,"title":null,"tickSize":5}},"y":{"field":"Y2","type":"quantitative","scale":{"domain":[2827.2,2841.2],"nice":false,"zero":false},"axis":{"orient":"right","values":[2830,2835,2840],"labels":false,"title":null,"tickSize":7}}}},
{"width":1,"height":1,"data":{"values":[]},"mark":"point","view":{"stroke":null}},
{"width":1,"height":1,"data":{"values":[]},"mark":"point","view":{"stroke":null}},
{"width":1,"height":1,"data":{"values":[]},"mark":"point","view":{"stroke":null}},
{"width":1,"height":1,"data":{"values":[]},"mark":"point","view":{"stroke":null}},

{"width":1,"height":1,"data":{"values":[]},"mark":"point","view":{"stroke":null}},
{"width":127,"height":97,"layer":[{"mark":"point","encoding":{"x":{"field":"Str","type":"quantitative","scale":{"domain":[128.4,150.1],"nice":false,"zero":false},"axis":{"orient":"top","values":[130,140,150],"labels":false,"title":null,"tickSize":5}},"y":{"field":"Len","type":"quantitative","scale":{"domain":[8.15,17.95],"nice":false,"zero":false},"axis":{"orient":"left","values":[10,15],"title":"Len(km)","format":".6~g","tickSize":6,"labelPadding":16,"labelAlign":"center","minExtent":36,"maxExtent":36,"titlePadding":1}}}},{"mark":{"type":"point","opacity":0},"encoding":{"x":{"field":"Str","type":"quantitative","scale":{"domain":[128.4,150.1],"nice":false,"zero":false},"axis":null},"y":{"field":"Len","type":"quantitative","scale":{"domain":[8.15,17.95],"nice":false,"zero":false},"axis":{"orient":"right","values":[10,15],"labels":false,"title":null,"tickSize":7}}}}],"resolve":{"axis":{"x":"independent","y":"independent"}}},
{"width":127,"height":97,"mark":"point","encoding":{"x":{"field":"Dip","type":"quantitative","scale":{"domain":[76.45,84.7],"nice":false,"zero":false},"axis":{"orient":"top","values":[78,80,82,84],"labels":false,"title":null,"tickSize":5}},"y":{"field":"Len","type":"quantitative","scale":{"domain":[8.15,17.95],"nice":false,"zero":false},"axis":{"orient":"right","values":[10,15],"labels":false,"title":null,"tickSize":7}}}},
{"width":127,"height":97,"mark":"point","encoding":{"x":{"field":"Rake","type":"quantitative","scale":{"domain":[-185,-158.7],"nice":false,"zero":false},"axis":{"orient":"top","values":[-180,-170,-160],"labels":false,"title":null,"tickSize":5}},"y":{"field":"Len","type":"quantitative","scale":{"domain":[8.15,17.95],"nice":false,"zero":false},"axis":{"orient":"right","values":[10,15],"labels":false,"title":null,"tickSize":7}}}},
{"width":127,"height":97,"mark":"point","encoding":{"x":{"field":"Slip","type":"quantitative","scale":{"domain":[-0.6,1.2],"nice":false,"zero":false},"axis":{"orient":"top","values":[-0.5,0,0.5,1],"labels":false,"title":null,"tickSize":5}},"y":{"field":"Len","type":"quantitative","scale":{"domain":[8.15,17.95],"nice":false,"zero":false},"axis":{"orient":"right","values":[10,15],"labels":false,"title":null,"tickSize":7}}}},
{"width":127,"height":97,"mark":"point","encoding":{"x":{"field":"X","type":"quantitative","scale":{"domain":[586,600.22],"nice":false,"zero":false},"axis":{"orient":"top","values":[590,595,600],"labels":false,"title":null,"tickSize":5}},"y":{"field":"Len","type":"quantitative","scale":{"domain":[8.15,17.95],"nice":false,"zero":false},"axis":{"orient":"right","values":[10,15],"labels":false,"title":null,"tickSize":7}}}},
{"width":127,"height":97,"mark":"point","encoding":{"x":{"field":"Y","type":"quantitative","scale":{"domain":[2827.2,2841.2],"nice":false,"zero":false},"axis":{"orient":"top","values":[2830,2835,2840],"labels":false,"title":null,"tickSize":5}},"y":{"field":"Len","type":"quantitative","scale":{"domain":[8.15,17.95],"nice":false,"zero":false},"axis":{"orient":"right","values":[10,15],"labels":false,"title":null,"tickSize":7}}}},
{"width":1,"height":1,"data":{"values":[]},"mark":"point","view":{"stroke":null}},
{"width":1,"height":1,"data":{"values":[]},"mark":"point","view":{"stroke":null}},
{"width":1,"height":1,"data":{"values":[]},"mark":"point","view":{"stroke":null}},

{"width":1,"height":1,"data":{"values":[]},"mark":"point","view":{"stroke":null}},
{"width":127,"height":97,"layer":[{"mark":"point","encoding":{"x":{"field":"Str","type":"quantitative","scale":{"domain":[128.4,150.1],"nice":false,"zero":false},"axis":{"orient":"top","values":[130,140,150],"labels":false,"title":null,"tickSize":5}},"y":{"field":"Wid","type":"quantitative","scale":{"domain":[1.9,11.07],"nice":false,"zero":false},"axis":{"orient":"left","values":[5,10],"title":"Wid(km)","format":".6~g","tickSize":6,"labelPadding":16,"labelAlign":"center","minExtent":36,"maxExtent":36,"titlePadding":1}}}},{"mark":{"type":"point","opacity":0},"encoding":{"x":{"field":"Str","type":"quantitative","scale":{"domain":[128.4,150.1],"nice":false,"zero":false},"axis":null},"y":{"field":"Wid","type":"quantitative","scale":{"domain":[1.9,11.07],"nice":false,"zero":false},"axis":{"orient":"right","values":[5,10],"labels":false,"title":null,"tickSize":7}}}}],"resolve":{"axis":{"x":"independent","y":"independent"}}},
{"width":127,"height":97,"mark":"point","encoding":{"x":{"field":"Dip","type":"quantitative","scale":{"domain":[76.45,84.7],"nice":false,"zero":false},"axis":{"orient":"top","values":[78,80,82,84],"labels":false,"title":null,"tickSize":5}},"y":{"field":"Wid","type":"quantitative","scale":{"domain":[1.9,11.07],"nice":false,"zero":false},"axis":{"orient":"right","values":[5,10],"labels":false,"title":null,"tickSize":7}}}},
{"width":127,"height":97,"mark":"point","encoding":{"x":{"field":"Rake","type":"quantitative","scale":{"domain":[-185,-158.7],"nice":false,"zero":false},"axis":{"orient":"top","values":[-180,-170,-160],"labels":false,"title":null,"tickSize":5}},"y":{"field":"Wid","type":"quantitative","scale":{"domain":[1.9,11.07],"nice":false,"zero":false},"axis":{"orient":"right","values":[5,10],"labels":false,"title":null,"tickSize":7}}}},
{"width":127,"height":97,"mark":"point","encoding":{"x":{"field":"Slip","type":"quantitative","scale":{"domain":[-0.6,1.2],"nice":false,"zero":false},"axis":{"orient":"top","values":[-0.5,0,0.5,1],"labels":false,"title":null,"tickSize":5}},"y":{"field":"Wid","type":"quantitative","scale":{"domain":[1.9,11.07],"nice":false,"zero":false},"axis":{"orient":"right","values":[5,10],"labels":false,"title":null,"tickSize":7}}}},
{"width":127,"height":97,"mark":"point","encoding":{"x":{"field":"X","type":"quantitative","scale":{"domain":[586,600.22],"nice":false,"zero":false},"axis":{"orient":"top","values":[590,595,600],"labels":false,"title":null,"tickSize":5}},"y":{"field":"Wid","type":"quantitative","scale":{"domain":[1.9,11.07],"nice":false,"zero":false},"axis":{"orient":"right","values":[5,10],"labels":false,"title":null,"tickSize":7}}}},
{"width":127,"height":97,"mark":"point","encoding":{"x":{"field":"Y","type":"quantitative","scale":{"domain":[2827.2,2841.2],"nice":false,"zero":false},"axis":{"orient":"top","values":[2830,2835,2840],"labels":false,"title":null,"tickSize":5}},"y":{"field":"Wid","type":"quantitative","scale":{"domain":[1.9,11.07],"nice":false,"zero":false},"axis":{"orient":"right","values":[5,10],"labels":false,"title":null,"tickSize":7}}}},
{"width":127,"height":97,"mark":"point","encoding":{"x":{"field":"Len","type":"quantitative","scale":{"domain":[8.15,17.95],"nice":false,"zero":false},"axis":{"orient":"top","values":[10,15],"labels":false,"title":null,"tickSize":5}},"y":{"field":"Wid","type":"quantitative","scale":{"domain":[1.9,11.07],"nice":false,"zero":false},"axis":{"orient":"right","values":[5,10],"labels":false,"title":null,"tickSize":7}}}},
{"width":1,"height":1,"data":{"values":[]},"mark":"point","view":{"stroke":null}},
{"width":1,"height":1,"data":{"values":[]},"mark":"point","view":{"stroke":null}},

{"width":1,"height":1,"data":{"values":[]},"mark":"point","view":{"stroke":null},"title":{"text":"Uncertainties and trade-offs for the nonlinear inversion computed using Monte Carlo analysis.","orient":"bottom","anchor":"start","font":"Liberation Sans","fontSize":18,"fontWeight":"normal","color":"#2a2a2a","dx":120,"offset":284.5,"baseline":"top","lineHeight":18}},
{"width":127,"height":97,"layer":[{"mark":"point","encoding":{"x":{"field":"Str","type":"quantitative","scale":{"domain":[128.4,150.1],"nice":false,"zero":false},"axis":{"orient":"top","values":[130,140,150],"labels":false,"title":null,"tickSize":5}},"y":{"field":"Depth","type":"quantitative","scale":{"domain":[1.07,11.77],"nice":false,"zero":false},"axis":{"orient":"left","values":[2,4,6,8,10],"title":"Depth(km)","format":".6~g","tickSize":6,"labelPadding":16,"labelAlign":"center","minExtent":36,"maxExtent":36,"titlePadding":1}}}},{"mark":{"type":"point","opacity":0},"encoding":{"x":{"field":"Str","type":"quantitative","scale":{"domain":[128.4,150.1],"nice":false,"zero":false},"axis":null},"y":{"field":"Depth","type":"quantitative","scale":{"domain":[1.07,11.77],"nice":false,"zero":false},"axis":{"orient":"right","values":[2,4,6,8,10],"labels":false,"title":null,"tickSize":7}}}}],"resolve":{"axis":{"x":"independent","y":"independent"}}},
{"width":127,"height":97,"mark":"point","encoding":{"x":{"field":"Dip","type":"quantitative","scale":{"domain":[76.45,84.7],"nice":false,"zero":false},"axis":{"orient":"top","values":[78,80,82,84],"labels":false,"title":null,"tickSize":5}},"y":{"field":"Depth","type":"quantitative","scale":{"domain":[1.07,11.77],"nice":false,"zero":false},"axis":{"orient":"right","values":[2,4,6,8,10],"labels":false,"title":null,"tickSize":7}}}},
{"width":127,"height":97,"mark":"point","encoding":{"x":{"field":"Rake","type":"quantitative","scale":{"domain":[-185,-158.7],"nice":false,"zero":false},"axis":{"orient":"top","values":[-180,-170,-160],"labels":false,"title":null,"tickSize":5}},"y":{"field":"Depth","type":"quantitative","scale":{"domain":[1.07,11.77],"nice":false,"zero":false},"axis":{"orient":"right","values":[2,4,6,8,10],"labels":false,"title":null,"tickSize":7}}}},
{"width":127,"height":97,"mark":"point","encoding":{"x":{"field":"Slip","type":"quantitative","scale":{"domain":[-0.6,1.2],"nice":false,"zero":false},"axis":{"orient":"top","values":[-0.5,0,0.5,1],"labels":false,"title":null,"tickSize":5}},"y":{"field":"Depth","type":"quantitative","scale":{"domain":[1.07,11.77],"nice":false,"zero":false},"axis":{"orient":"right","values":[2,4,6,8,10],"labels":false,"title":null,"tickSize":7}}}},
{"width":127,"height":97,"mark":"point","encoding":{"x":{"field":"X","type":"quantitative","scale":{"domain":[586,600.22],"nice":false,"zero":false},"axis":{"orient":"top","values":[590,595,600],"labels":false,"title":null,"tickSize":5}},"y":{"field":"Depth","type":"quantitative","scale":{"domain":[1.07,11.77],"nice":false,"zero":false},"axis":{"orient":"right","values":[2,4,6,8,10],"labels":false,"title":null,"tickSize":7}}}},
{"width":127,"height":97,"mark":"point","encoding":{"x":{"field":"Y","type":"quantitative","scale":{"domain":[2827.2,2841.2],"nice":false,"zero":false},"axis":{"orient":"top","values":[2830,2835,2840],"labels":false,"title":null,"tickSize":5}},"y":{"field":"Depth","type":"quantitative","scale":{"domain":[1.07,11.77],"nice":false,"zero":false},"axis":{"orient":"right","values":[2,4,6,8,10],"labels":false,"title":null,"tickSize":7}}}},
{"width":127,"height":97,"mark":"point","encoding":{"x":{"field":"Len","type":"quantitative","scale":{"domain":[8.15,17.95],"nice":false,"zero":false},"axis":{"orient":"top","values":[10,15],"labels":false,"title":null,"tickSize":5}},"y":{"field":"Depth","type":"quantitative","scale":{"domain":[1.07,11.77],"nice":false,"zero":false},"axis":{"orient":"right","values":[2,4,6,8,10],"labels":false,"title":null,"tickSize":7}}}},
{"width":127,"height":97,"mark":"point","encoding":{"x":{"field":"Wid","type":"quantitative","scale":{"domain":[1.9,11.07],"nice":false,"zero":false},"axis":{"orient":"top","values":[5,10],"labels":false,"title":null,"tickSize":5}},"y":{"field":"Depth","type":"quantitative","scale":{"domain":[1.07,11.77],"nice":false,"zero":false},"axis":{"orient":"right","values":[2,4,6,8,10],"labels":false,"title":null,"tickSize":7}}}},
{"width":1,"height":1,"data":{"values":[]},"mark":"point","view":{"stroke":null}},

{"width":1,"height":1,"data":{"values":[]},"mark":"point","view":{"stroke":null},"title":{"text":"FIGURE 5 |","orient":"bottom","anchor":"start","font":"Liberation Sans","fontSize":17,"fontWeight":"bold","color":"#1a1a1a","dx":17,"offset":182,"baseline":"top","lineHeight":17}},
{"width":127,"height":97,"title":{"text":["μ =\u00a0\u00a0\u00a0\u00a0138.078","ξ =\u00a0\u00a0±4.627"]},"layer":[
{"data":{"name":"hist"},"transform":[{"filter":"datum.p==='Str'"}],"mark":"bar","encoding":{"x":{"field":"lo","type":"quantitative","scale":{"domain":[128.4,150.1],"nice":false,"zero":false},"axis":{"orient":"bottom","values":[130,140,150],"title":"Str(deg)","format":".6~g","tickSize":7,"tickColor":"#c4c4c4","labelPadding":10,"titlePadding":8}},"x2":{"field":"hi"},"y":{"field":"n","type":"quantitative","scale":{"domain":[0,102],"nice":false},"axis":{"orient":"left","values":[0,50,100],"title":"Frequancy","format":".6~g","tickSize":6,"labelPadding":16,"labelAlign":"center","minExtent":36,"maxExtent":36,"titlePadding":1}}}},
{"data":{"name":"curve"},"transform":[{"filter":"datum.p==='Str'"}],"mark":{"type":"line","clip":true},"encoding":{"x":{"field":"x","type":"quantitative","scale":{"domain":[128.4,150.1],"nice":false,"zero":false},"axis":{"orient":"top","values":[130,140,150],"labels":false,"title":null,"tickSize":5}},"y":{"field":"y","type":"quantitative","scale":{"domain":[0,102],"nice":false},"axis":{"orient":"right","values":[0,50,100],"labels":false,"title":null,"tickSize":7}}}},
{"data":{"name":"stats"},"transform":[{"filter":"datum.p==='Str'"}],"mark":"rule","encoding":{"x":{"field":"mu","type":"quantitative","scale":{"domain":[128.4,150.1],"nice":false,"zero":false},"axis":null}}}
],"resolve":{"axis":{"x":"independent","y":"independent"}}},
{"width":127,"height":97,"title":{"text":["μ =\u00a0\u00a0\u00a0\u00a081.334","ξ =\u00a0\u00a0±1.877"]},"layer":[
{"data":{"name":"hist"},"transform":[{"filter":"datum.p==='Dip'"}],"mark":"bar","encoding":{"x":{"field":"lo","type":"quantitative","scale":{"domain":[76.45,84.7],"nice":false,"zero":false},"axis":{"orient":"bottom","values":[78,80,82,84],"title":"Dip(deg)","format":".6~g","tickSize":7,"tickColor":"#c4c4c4","labelPadding":10,"titlePadding":8}},"x2":{"field":"hi"},"y":{"field":"n","type":"quantitative","scale":{"domain":[0,102],"nice":false},"axis":null}}},
{"data":{"name":"curve"},"transform":[{"filter":"datum.p==='Dip'"}],"mark":{"type":"line","clip":true},"encoding":{"x":{"field":"x","type":"quantitative","scale":{"domain":[76.45,84.7],"nice":false,"zero":false},"axis":{"orient":"top","values":[78,80,82,84],"labels":false,"title":null,"tickSize":5}},"y":{"field":"y","type":"quantitative","scale":{"domain":[0,102],"nice":false},"axis":{"orient":"right","values":[0,50,100],"labels":false,"title":null,"tickSize":7}}}},
{"data":{"name":"stats"},"transform":[{"filter":"datum.p==='Dip'"}],"mark":"rule","encoding":{"x":{"field":"mu","type":"quantitative","scale":{"domain":[76.45,84.7],"nice":false,"zero":false},"axis":null}}}
],"resolve":{"axis":{"x":"independent","y":"independent"}}},
{"width":127,"height":97,"title":{"text":["μ =\u00a0\u00a0\u00a0\u00a0-172.902","ξ =\u00a0\u00a0±4.749"]},"layer":[
{"data":{"name":"hist"},"transform":[{"filter":"datum.p==='Rake'"}],"mark":"bar","encoding":{"x":{"field":"lo","type":"quantitative","scale":{"domain":[-185,-158.7],"nice":false,"zero":false},"axis":{"orient":"bottom","values":[-180,-170,-160],"title":"Rake(deg)","format":".6~g","tickSize":7,"tickColor":"#c4c4c4","labelPadding":10,"titlePadding":8}},"x2":{"field":"hi"},"y":{"field":"n","type":"quantitative","scale":{"domain":[0,102],"nice":false},"axis":null}}},
{"data":{"name":"curve"},"transform":[{"filter":"datum.p==='Rake'"}],"mark":{"type":"line","clip":true},"encoding":{"x":{"field":"x","type":"quantitative","scale":{"domain":[-185,-158.7],"nice":false,"zero":false},"axis":{"orient":"top","values":[-180,-170,-160],"labels":false,"title":null,"tickSize":5}},"y":{"field":"y","type":"quantitative","scale":{"domain":[0,102],"nice":false},"axis":{"orient":"right","values":[0,50,100],"labels":false,"title":null,"tickSize":7}}}},
{"data":{"name":"stats"},"transform":[{"filter":"datum.p==='Rake'"}],"mark":"rule","encoding":{"x":{"field":"mu","type":"quantitative","scale":{"domain":[-185,-158.7],"nice":false,"zero":false},"axis":null}}}
],"resolve":{"axis":{"x":"independent","y":"independent"}}},
{"width":127,"height":97,"title":{"text":["μ =\u00a0\u00a0\u00a0\u00a00.698","ξ =\u00a0\u00a0±0.281"]},"layer":[
{"data":{"name":"hist"},"transform":[{"filter":"datum.p==='Slip'"}],"mark":"bar","encoding":{"x":{"field":"lo","type":"quantitative","scale":{"domain":[-0.6,1.2],"nice":false,"zero":false},"axis":{"orient":"bottom","values":[-0.5,0,0.5,1],"title":"Slip(m)","format":".6~g","tickSize":7,"tickColor":"#c4c4c4","labelPadding":10,"titlePadding":8}},"x2":{"field":"hi"},"y":{"field":"n","type":"quantitative","scale":{"domain":[0,102],"nice":false},"axis":null}}},
{"data":{"name":"curve"},"transform":[{"filter":"datum.p==='Slip'"}],"mark":{"type":"line","clip":true},"encoding":{"x":{"field":"x","type":"quantitative","scale":{"domain":[-0.6,1.2],"nice":false,"zero":false},"axis":{"orient":"top","values":[-0.5,0,0.5,1],"labels":false,"title":null,"tickSize":5}},"y":{"field":"y","type":"quantitative","scale":{"domain":[0,102],"nice":false},"axis":{"orient":"right","values":[0,50,100],"labels":false,"title":null,"tickSize":7}}}},
{"data":{"name":"stats"},"transform":[{"filter":"datum.p==='Slip'"}],"mark":"rule","encoding":{"x":{"field":"mu","type":"quantitative","scale":{"domain":[-0.6,1.2],"nice":false,"zero":false},"axis":null}}}
],"resolve":{"axis":{"x":"independent","y":"independent"}}},
{"width":127,"height":97,"title":{"text":["μ =\u00a0\u00a0\u00a0\u00a0593.900","ξ =\u00a0\u00a0±2.866"]},"layer":[
{"data":{"name":"hist"},"transform":[{"filter":"datum.p==='X'"}],"mark":"bar","encoding":{"x":{"field":"lo","type":"quantitative","scale":{"domain":[586,600.22],"nice":false,"zero":false},"axis":{"orient":"bottom","values":[590,595,600],"title":"X(Km)","format":".6~g","tickSize":7,"tickColor":"#c4c4c4","labelPadding":10,"titlePadding":8}},"x2":{"field":"hi"},"y":{"field":"n","type":"quantitative","scale":{"domain":[0,102],"nice":false},"axis":null}}},
{"data":{"name":"curve"},"transform":[{"filter":"datum.p==='X'"}],"mark":{"type":"line","clip":true},"encoding":{"x":{"field":"x","type":"quantitative","scale":{"domain":[586,600.22],"nice":false,"zero":false},"axis":{"orient":"top","values":[590,595,600],"labels":false,"title":null,"tickSize":5}},"y":{"field":"y","type":"quantitative","scale":{"domain":[0,102],"nice":false},"axis":{"orient":"right","values":[0,50,100],"labels":false,"title":null,"tickSize":7}}}},
{"data":{"name":"stats"},"transform":[{"filter":"datum.p==='X'"}],"mark":"rule","encoding":{"x":{"field":"mu","type":"quantitative","scale":{"domain":[586,600.22],"nice":false,"zero":false},"axis":null}}}
],"resolve":{"axis":{"x":"independent","y":"independent"}}},
{"width":127,"height":97,"title":{"text":["μ =\u00a0\u00a0\u00a0\u00a02834.994","ξ =\u00a0\u00a0±2.866"]},"layer":[
{"data":{"name":"hist"},"transform":[{"filter":"datum.p==='Y'"}],"mark":"bar","encoding":{"x":{"field":"lo","type":"quantitative","scale":{"domain":[2827.2,2841.2],"nice":false,"zero":false},"axis":{"orient":"bottom","values":[2830,2835,2840],"title":"Y(Km)","format":".6~g","tickSize":7,"tickColor":"#c4c4c4","labelPadding":10,"titlePadding":8}},"x2":{"field":"hi"},"y":{"field":"n","type":"quantitative","scale":{"domain":[0,102],"nice":false},"axis":null}}},
{"data":{"name":"curve"},"transform":[{"filter":"datum.p==='Y'"}],"mark":{"type":"line","clip":true},"encoding":{"x":{"field":"x","type":"quantitative","scale":{"domain":[2827.2,2841.2],"nice":false,"zero":false},"axis":{"orient":"top","values":[2830,2835,2840],"labels":false,"title":null,"tickSize":5}},"y":{"field":"y","type":"quantitative","scale":{"domain":[0,102],"nice":false},"axis":{"orient":"right","values":[0,50,100],"labels":false,"title":null,"tickSize":7}}}},
{"data":{"name":"stats"},"transform":[{"filter":"datum.p==='Y'"}],"mark":"rule","encoding":{"x":{"field":"mu","type":"quantitative","scale":{"domain":[2827.2,2841.2],"nice":false,"zero":false},"axis":null}}}
],"resolve":{"axis":{"x":"independent","y":"independent"}}},
{"width":127,"height":97,"title":{"text":["μ =\u00a0\u00a0\u00a0\u00a012.682","ξ =\u00a0\u00a0±1.952"]},"layer":[
{"data":{"name":"hist"},"transform":[{"filter":"datum.p==='Len'"}],"mark":"bar","encoding":{"x":{"field":"lo","type":"quantitative","scale":{"domain":[8.15,17.95],"nice":false,"zero":false},"axis":{"orient":"bottom","values":[10,15],"title":"Len(km)","format":".6~g","tickSize":7,"tickColor":"#c4c4c4","labelPadding":10,"titlePadding":8}},"x2":{"field":"hi"},"y":{"field":"n","type":"quantitative","scale":{"domain":[0,102],"nice":false},"axis":null}}},
{"data":{"name":"curve"},"transform":[{"filter":"datum.p==='Len'"}],"mark":{"type":"line","clip":true},"encoding":{"x":{"field":"x","type":"quantitative","scale":{"domain":[8.15,17.95],"nice":false,"zero":false},"axis":{"orient":"top","values":[10,15],"labels":false,"title":null,"tickSize":5}},"y":{"field":"y","type":"quantitative","scale":{"domain":[0,102],"nice":false},"axis":{"orient":"right","values":[0,50,100],"labels":false,"title":null,"tickSize":7}}}},
{"data":{"name":"stats"},"transform":[{"filter":"datum.p==='Len'"}],"mark":"rule","encoding":{"x":{"field":"mu","type":"quantitative","scale":{"domain":[8.15,17.95],"nice":false,"zero":false},"axis":null}}}
],"resolve":{"axis":{"x":"independent","y":"independent"}}},
{"width":127,"height":97,"title":{"text":["μ =\u00a0\u00a0\u00a0\u00a06.595","ξ =\u00a0\u00a0±1.983"]},"layer":[
{"data":{"name":"hist"},"transform":[{"filter":"datum.p==='Wid'"}],"mark":"bar","encoding":{"x":{"field":"lo","type":"quantitative","scale":{"domain":[1.9,11.07],"nice":false,"zero":false},"axis":{"orient":"bottom","values":[5,10],"title":"Wid(km)","format":".6~g","tickSize":7,"tickColor":"#c4c4c4","labelPadding":10,"titlePadding":8}},"x2":{"field":"hi"},"y":{"field":"n","type":"quantitative","scale":{"domain":[0,102],"nice":false},"axis":null}}},
{"data":{"name":"curve"},"transform":[{"filter":"datum.p==='Wid'"}],"mark":{"type":"line","clip":true},"encoding":{"x":{"field":"x","type":"quantitative","scale":{"domain":[1.9,11.07],"nice":false,"zero":false},"axis":{"orient":"top","values":[5,10],"labels":false,"title":null,"tickSize":5}},"y":{"field":"y","type":"quantitative","scale":{"domain":[0,102],"nice":false},"axis":{"orient":"right","values":[0,50,100],"labels":false,"title":null,"tickSize":7}}}},
{"data":{"name":"stats"},"transform":[{"filter":"datum.p==='Wid'"}],"mark":"rule","encoding":{"x":{"field":"mu","type":"quantitative","scale":{"domain":[1.9,11.07],"nice":false,"zero":false},"axis":null}}}
],"resolve":{"axis":{"x":"independent","y":"independent"}}},
{"width":127,"height":97,"title":{"text":["μ =\u00a0\u00a0\u00a0\u00a07.288","ξ =\u00a0\u00a0±2.117"]},"layer":[
{"data":{"name":"hist"},"transform":[{"filter":"datum.p==='Depth'"}],"mark":"bar","encoding":{"x":{"field":"lo","type":"quantitative","scale":{"domain":[1.07,11.77],"nice":false,"zero":false},"axis":{"orient":"bottom","values":[2,4,6,8,10],"title":"Depth(km)","format":".6~g","tickSize":7,"tickColor":"#c4c4c4","labelPadding":10,"titlePadding":8}},"x2":{"field":"hi"},"y":{"field":"n","type":"quantitative","scale":{"domain":[0,102],"nice":false},"axis":null}}},
{"data":{"name":"curve"},"transform":[{"filter":"datum.p==='Depth'"}],"mark":{"type":"line","clip":true},"encoding":{"x":{"field":"x","type":"quantitative","scale":{"domain":[1.07,11.77],"nice":false,"zero":false},"axis":{"orient":"top","values":[2,4,6,8,10],"labels":false,"title":null,"tickSize":5}},"y":{"field":"y","type":"quantitative","scale":{"domain":[0,102],"nice":false},"axis":{"orient":"right","values":[0,50,100],"labels":false,"title":null,"tickSize":7}}}},
{"data":{"name":"stats"},"transform":[{"filter":"datum.p==='Depth'"}],"mark":"rule","encoding":{"x":{"field":"mu","type":"quantitative","scale":{"domain":[1.07,11.77],"nice":false,"zero":false},"axis":null}}}
],"resolve":{"axis":{"x":"independent","y":"independent"}}}
]
}
